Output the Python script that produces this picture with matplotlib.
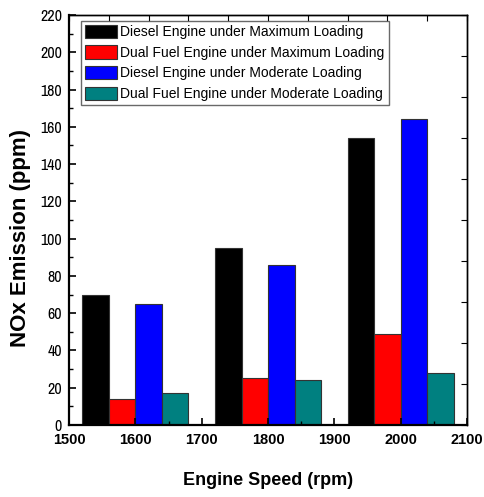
import matplotlib
matplotlib.use("Agg")
import matplotlib.pyplot as plt
import numpy as np

speeds = [1600, 1800, 2000]
series_labels = [
    "Diesel Engine under Maximum Loading",
    "Dual Fuel Engine under Maximum Loading",
    "Diesel Engine under Moderate Loading",
    "Dual Fuel Engine under Moderate Loading",
]
diesel_max = [70, 95, 154]
dual_max = [14, 25, 49]
diesel_mod = [65, 86, 164]
dual_mod = [17, 24, 28]
colors = ["#000000", "#FF0000", "#0000FF", "#008080"]
x_ticks = [1500, 1600, 1700, 1800, 1900, 2000, 2100]
y_ticks = list(range(0, 221, 20))

plt.rcParams['font.family'] = ['Liberation Sans', 'DejaVu Sans']

fig = plt.figure(figsize=(4.84, 4.97), dpi=100)
ax = fig.add_axes([0.1426, 0.1449, 0.8224, 0.8249])

width = 40
offsets = [-60, -20, 20, 60]
data = [diesel_max, dual_max, diesel_mod, dual_mod]
for vals, off, c, lab in zip(data, offsets, colors, series_labels):
    ax.bar(np.array(speeds) + off, vals, width=width, color=c,
           edgecolor="#333333", linewidth=0.8, label=lab)

ax.set_xlim(1500, 2100)
ax.set_ylim(0, 220)
ax.set_xticks(x_ticks)
ax.set_yticks(y_ticks)
ax.set_xticks(np.arange(1550, 2100, 100), minor=True)
ax.set_yticks(np.arange(10, 220, 20), minor=True)
ax.tick_params(which='both', direction='in', top=False, right=False)
ax.tick_params(which='major', length=5, width=1.2)
ax.tick_params(which='minor', length=3, width=1.0)
for lbl in ax.get_xticklabels():
    lbl.set_fontfamily(['Liberation Sans', 'DejaVu Sans'])
    lbl.set_fontweight('bold')
    lbl.set_fontsize(10.5)
for lbl in ax.get_yticklabels():
    lbl.set_fontfamily(['Archivo Narrow', 'Liberation Sans', 'DejaVu Sans'])
    lbl.set_fontweight('bold')
    lbl.set_fontsize(11.5)
ax.tick_params(axis='x', pad=6)
ax.tick_params(axis='y', pad=5)

sec_x = ax.secondary_xaxis('top')
sec_x.set_xticks(np.linspace(1500, 2100, 11))
sec_x.tick_params(direction='in', length=4, labeltop=False)
sec_y = ax.secondary_yaxis('right')
sec_y.set_yticks(np.linspace(0, 220, 11))
sec_y.tick_params(direction='in', length=4, labelright=False)

for s in ['left', 'bottom']:
    ax.spines[s].set_linewidth(1.6)
for s in ['top', 'right']:
    ax.spines[s].set_linewidth(1.0)
sec_x.spines['top'].set_linewidth(1.0)
sec_y.spines['right'].set_linewidth(1.0)

ax.set_xlabel("Engine Speed (rpm)", fontsize=13, fontweight='bold', labelpad=18)
ylab = ax.set_ylabel("NOx Emission (ppm)", fontsize=16, fontweight='bold',
                     va='center', ha='center')
ax.yaxis.set_label_coords(-0.123, 0.455)

leg = ax.legend(loc='upper left', bbox_to_anchor=(0.022, 0.993), fontsize=10,
                frameon=True, fancybox=False, handlelength=2.3, handleheight=1.1,
                handletextpad=0.25, borderpad=0.3, labelspacing=0.45, borderaxespad=0.2)
leg.get_frame().set_edgecolor("#444444")
leg.get_frame().set_linewidth(1.0)

fig.savefig("out.png", dpi=100)
